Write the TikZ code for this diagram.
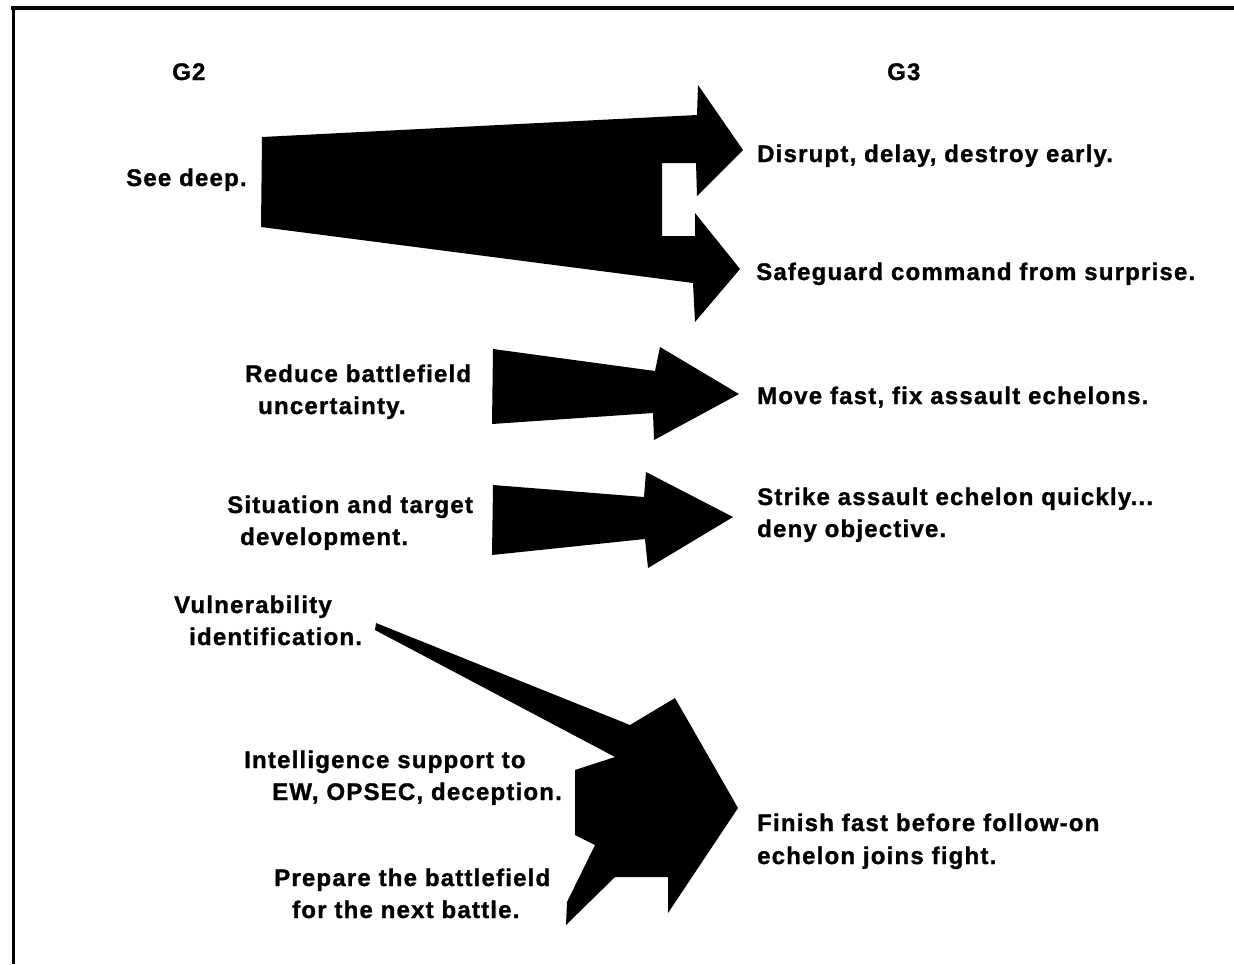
\documentclass[tikz,border=0pt]{standalone}
\usepackage{fontspec}
\setmainfont{Liberation Sans}[LetterSpace=5, BoldFeatures={FakeBold=1.2}]
\begin{document}
\begin{tikzpicture}[x=1pt,y=-1pt,
  lbl/.style={font=\bfseries\fontsize{24}{32}\selectfont, inner sep=0pt, anchor=base west},
  blockarrow/.style={fill=black, draw=none},
  rule/.style={draw=black}]
\useasboundingbox (0,0) rectangle (1234,964);

% frame
\draw[rule, line width=4pt] (11,8) -- (1234,8);
\draw[rule, line width=3pt] (13,6) -- (13,964);

% column heads
\node[lbl] (g2) at (172,80) {G2};
\node[lbl] (g3) at (887,80) {G3};

% see deep -> disrupt / safeguard
\fill[blockarrow] (262,137) -- (697,115) -- (698,85) -- (743,150) -- (697,196)
  -- (696,163) -- (662,163) -- (662,236) -- (695,236) -- (695,213)
  -- (740,269) -- (695,322) -- (693,283) -- (261,227) -- cycle;
\node[lbl] (seedeep) at (126,186) {See deep.};
\node[lbl] (disrupt) at (757,162) {Disrupt, delay, destroy early.};
\node[lbl] (safeguard) at (756,280) {Safeguard command from surprise.};

% reduce uncertainty -> move fast
\fill[blockarrow] (493,349) -- (655,371) -- (660,347) -- (739,394) -- (654,440)
  -- (653,413) -- (492,424) -- cycle;
\node[lbl] (reduce1) at (245,382) {Reduce battlefield};
\node[lbl] (reduce2) at (258,414) {uncertainty.};
\node[lbl] (move) at (757,404) {Move fast, fix assault echelons.};

% situation development -> strike
\fill[blockarrow] (493,485) -- (644,497) -- (646,472) -- (733,517) -- (648,568)
  -- (645,539) -- (492,555) -- cycle;
\node[lbl] (sit1) at (227,513) {Situation and target};
\node[lbl] (sit2) at (240,545) {development.};
\node[lbl] (strike1) at (757,505) {Strike assault echelon quickly...};
\node[lbl] (strike2) at (757,537) {deny objective.};

% three inputs -> finish fast
\fill[blockarrow] (376,623) -- (630,725) -- (675,698) -- (738,808) -- (668,913)
  -- (668,877) -- (615,877) -- (566,925) -- (567,902) -- (595,845)
  -- (575,835) -- (575,770) -- (615,757) -- (375,630) -- cycle;
\node[lbl] (vul1) at (174,613) {Vulnerability};
\node[lbl] (vul2) at (189,645) {identification.};
\node[lbl] (intel1) at (244,768) {Intelligence support to};
\node[lbl] (intel2) at (272,800) {EW, OPSEC, deception.};
\node[lbl] (prep1) at (274,886) {Prepare the battlefield};
\node[lbl] (prep2) at (292,918) {for the next battle.};
\node[lbl] (finish1) at (757,831) {Finish fast before follow-on};
\node[lbl] (finish2) at (757,864) {echelon joins fight.};
\end{tikzpicture}
\end{document}
